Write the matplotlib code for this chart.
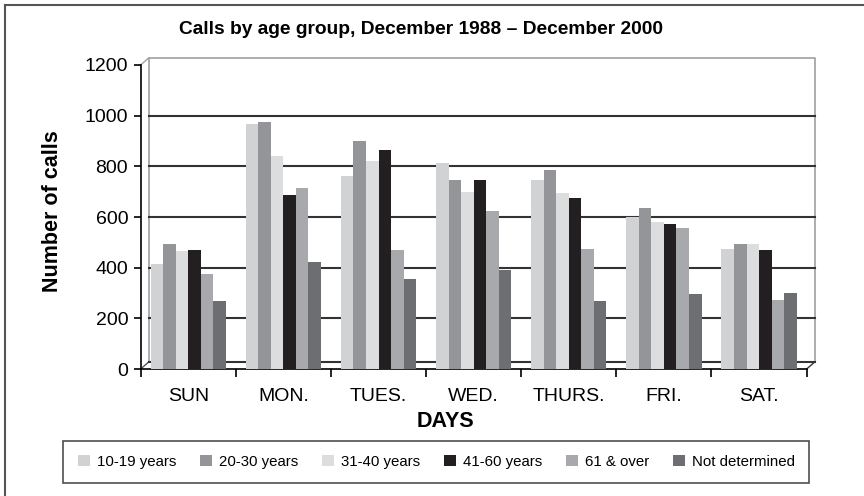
import matplotlib.pyplot as plt
import numpy as np

days = ['SUN', 'MON.', 'TUES.', 'WED.', 'THURS.', 'FRI.', 'SAT.']
groups = ['10-19 years', '20-30 years', '31-40 years', '41-60 years', '61 & over', 'Not determined']
colors = ['#d1d2d4', '#939598', '#dcdddf', '#231f20', '#a7a9ac', '#6d6e71']

age_10_19 = [415, 967, 762, 813, 746, 600, 474]
age_20_30 = [493, 975, 900, 746, 786, 636, 493]
age_31_40 = [466, 841, 821, 699, 695, 580, 493]
age_41_60 = [470, 687, 864, 746, 675, 572, 470]
age_61_over = [375, 714, 470, 624, 474, 557, 272]
not_determined = [268, 422, 355, 391, 268, 296, 300]

series = [age_10_19, age_20_30, age_31_40, age_41_60, age_61_over, not_determined]

plt.rcParams['font.family'] = ['Liberation Sans Narrow', 'Liberation Sans', 'DejaVu Sans']

fig = plt.figure(figsize=(8.64, 4.96), dpi=100)
ax = fig.add_axes([0.1628, 0.256, 0.7708, 0.613])

x = np.arange(len(days))
bw = 0.132
for i, (vals, c, name) in enumerate(zip(series, colors, groups)):
    ax.bar(x + (i - 2.5) * bw, vals, width=bw, color=c, label=name, zorder=3)

ax.set_xlim(-0.5, 6.5)
ax.set_ylim(0, 1200)

# pseudo 3d back wall
dx, dy = 0.084, 27.6
wall = '#a0a0a0'
ax.plot([-0.5 + dx, -0.5 + dx, 6.5 + dx, 6.5 + dx], [dy, 1200 + dy, 1200 + dy, dy],
        color=wall, lw=1.2, clip_on=False, zorder=1)
ax.plot([-0.5, -0.5 + dx], [1200, 1200 + dy], color=wall, lw=1, clip_on=False, zorder=1)
ax.plot([-0.5, -0.5 + dx], [0, dy], color='#555555', lw=1, clip_on=False, zorder=1)
ax.plot([6.5, 6.5 + dx], [0, dy], color='#333333', lw=1, clip_on=False, zorder=1)
for v in [dy, 200, 400, 600, 800, 1000]:
    ax.plot([-0.5 + dx, 6.5 + dx], [v, v], color='#333333', lw=1.5, clip_on=False, zorder=1)

for s in ['top', 'right']:
    ax.spines[s].set_visible(False)
ax.spines['left'].set_linewidth(1.2)
ax.spines['bottom'].set_linewidth(1.2)

ax.set_yticks(range(0, 1201, 200))
ax.set_xticks(np.arange(-0.5, 7, 1))
ax.set_xticklabels([])
ax.set_xticks(x, minor=True)
ax.set_xticklabels(days, minor=True)
ax.tick_params(axis='x', which='major', length=6, direction='out', width=1.2)
ax.tick_params(axis='x', which='minor', length=0, labelsize=14, pad=14)
ax.tick_params(axis='y', length=5, width=1.2, labelsize=14, pad=4)

ax.set_xlabel('DAYS', fontsize=15.5, fontweight='bold', family=['Liberation Sans'])
ax.xaxis.set_label_coords(0.457, -0.138)
ax.set_ylabel('Number of calls', fontsize=15.5, fontweight='bold', family=['Liberation Sans'])
ax.yaxis.set_label_coords(-0.117, 0.52)
fig.text(0.487, 0.94, 'Calls by age group, December 1988 \u2013 December 2000',
         ha='center', va='center', fontsize=13.8, fontweight='bold', family=['Liberation Sans'])

leg = fig.legend(loc='center', bbox_to_anchor=(0.505, 0.069), ncol=6, frameon=True,
                 fancybox=False, edgecolor='#222222', fontsize=10.8, handlelength=0.8,
                 handleheight=0.8, columnspacing=1.55, handletextpad=0.5,
                 borderpad=0.95)
leg.get_frame().set_linewidth(1.2)

fig.add_artist(plt.Line2D([4.5 / 864, 4.5 / 864], [0, 1 - 4.5 / 496], color='#555555', lw=1.5))
fig.add_artist(plt.Line2D([4.5 / 864, 1], [1 - 4.5 / 496, 1 - 4.5 / 496], color='#555555', lw=1.5))

fig.savefig('out.png', dpi=100)
